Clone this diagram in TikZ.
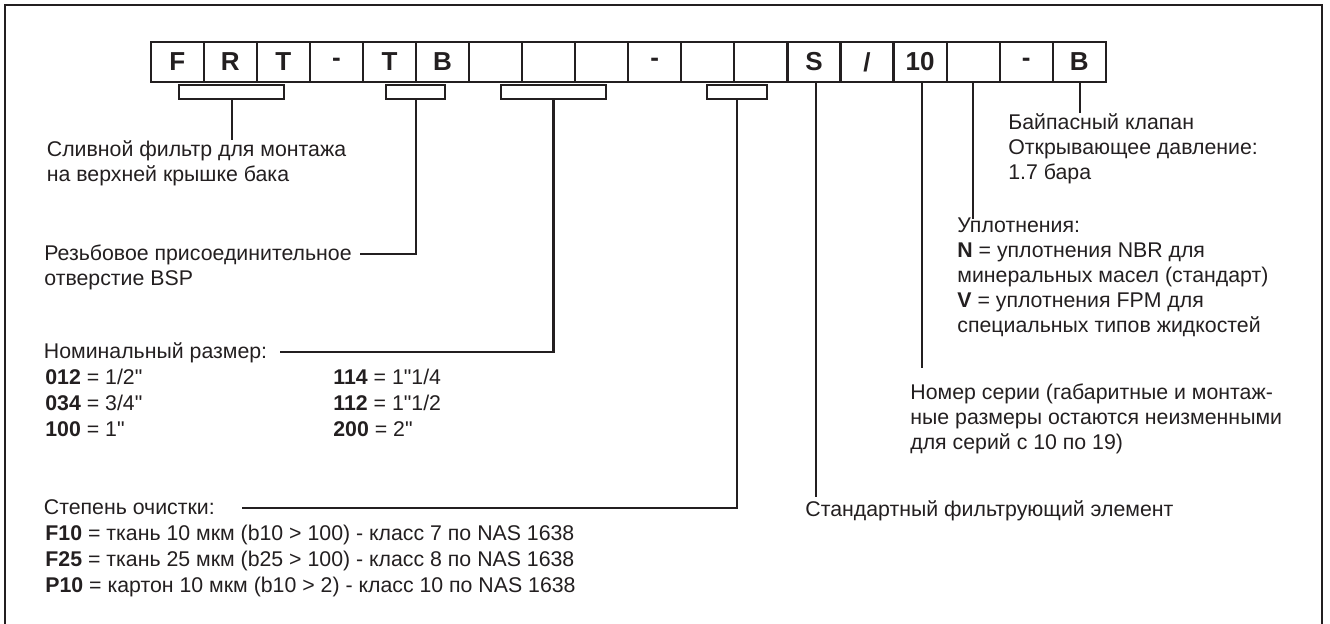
\documentclass[tikz,border=0pt]{standalone}
\usepackage{fontspec}
\setmainfont{Liberation Sans}[Ligatures=TeXOff]
\definecolor{ink}{HTML}{231F20}
\begin{document}
\begin{tikzpicture}[x=0.5pt,y=-0.5pt,
  cell/.style={draw=ink, line width=1.1pt, inner sep=0pt, minimum width=26.53pt, minimum height=20.25pt,
    font=\fontsize{13}{13}\selectfont\bfseries, text=ink},
  brk/.style={draw=ink, line width=1.1pt, inner sep=0pt, minimum height=6.85pt, minimum width=#1},
  ln/.style={draw=ink, line width=1.1pt},
  frame/.style={draw=ink, line width=1.3pt},
  lbl/.style={inner sep=0pt, anchor=base west, text=ink, font=\fontsize{10.65}{12.5}\selectfont}]
\useasboundingbox (0,0) rectangle (1330,624);
\draw[frame] (5,624) -- (5,5) -- (1322,5) -- (1322,624);
% code cells
\foreach \t [count=\i] in {F,R,T,-,T,B,{},{},{},-,{},{},S,/,10,{},-,B}
  \node[cell] (c\i) at ({150.7+(\i-0.5)*53.06},62) {\t};
% brackets
\node[brk=52.5pt] (b1) at (231.8,91.9) {};
\node[brk=29.65pt] (b2) at (415.7,91.9) {};
\node[brk=52.5pt] (b3) at (553.5,91.9) {};
\node[brk=30pt] (b4) at (737.3,91.9) {};
% labels
\node[lbl] (t1a) at (46.5,156.7) {Сливной фильтр для монтажа};
\node[lbl] (t1b) at (46.5,181.7) {на верхней крышке бака};
\node[lbl] (t2a) at (44,261) {Резьбовое присоединительное};
\node[lbl] (t2b) at (44,286) {отверстие BSP};
\node[lbl] (t3) at (43.5,359) {Номинальный размер:};
\node[lbl] (t3a) at (45,385) {\textbf{012} = 1/2"};
\node[lbl] (t3b) at (45,411) {\textbf{034} = 3/4"};
\node[lbl] (t3c) at (45,437) {\textbf{100} = 1"};
\node[lbl] (t3d) at (333,385) {\textbf{114} = 1"1/4};
\node[lbl] (t3e) at (333,411) {\textbf{112} = 1"1/2};
\node[lbl] (t3f) at (333,437) {\textbf{200} = 2"};
\node[lbl] (t4) at (43.5,515) {Степень очистки:};
\node[lbl] (t4a) at (45,541) {\textbf{F10} = ткань 10 мкм (b10 > 100) - класс 7 по NAS 1638};
\node[lbl] (t4b) at (45,567) {\textbf{F25} = ткань 25 мкм (b25 > 100) - класс 8 по NAS 1638};
\node[lbl] (t4c) at (45,593) {\textbf{P10} = картон 10 мкм (b10 > 2) - класс 10 по NAS 1638};
\node[lbl] (t5) at (805,517) {Стандартный фильтрующий элемент};
\node[lbl] (t6a) at (910,400) {Номер серии (габаритные и монтаж-};
\node[lbl] (t6b) at (910,425) {ные размеры остаются неизменными};
\node[lbl] (t6c) at (910,450) {для серий с 10 по 19)};
\node[lbl] (t7) at (957,233) {Уплотнения:};
\node[lbl] (t7a) at (957,258) {\textbf{N} = уплотнения NBR для};
\node[lbl] (t7b) at (957,283) {минеральных масел (стандарт)};
\node[lbl] (t7c) at (957,308) {\textbf{V} = уплотнения FPM для};
\node[lbl] (t7d) at (957,333) {специальных типов жидкостей};
\node[lbl] (t8a) at (1008,130) {Байпасный клапан};
\node[lbl] (t8b) at (1008,155) {Открывающее давление:};
\node[lbl] (t8c) at (1008,180) {1.7 бара};
% connector ends
\coordinate (e1) at (231.8,140);
\coordinate (e2) at (360,254);
\coordinate (e3) at (280,352);
\coordinate (e4) at (241.7,508.3);
\coordinate (e5) at (816,496.7);
\coordinate (e6) at (922,368);
\coordinate (e7) at (973.3,219);
\coordinate (e8) at (1080,113.3);
% connectors
\draw[ln] (b1.south) -- (e1);
\draw[ln] (b2.south) |- (e2);
\draw[ln] (b3.south) |- (e3);
\draw[ln] (b4.south) |- (e4);
\draw[ln] (c13.south -| e5) -- (e5);
\draw[ln] (c15.south -| e6) -- (e6);
\draw[ln] (c16.south -| e7) -- (e7);
\draw[ln] (c18.south -| e8) -- (e8);
\end{tikzpicture}
\end{document}
